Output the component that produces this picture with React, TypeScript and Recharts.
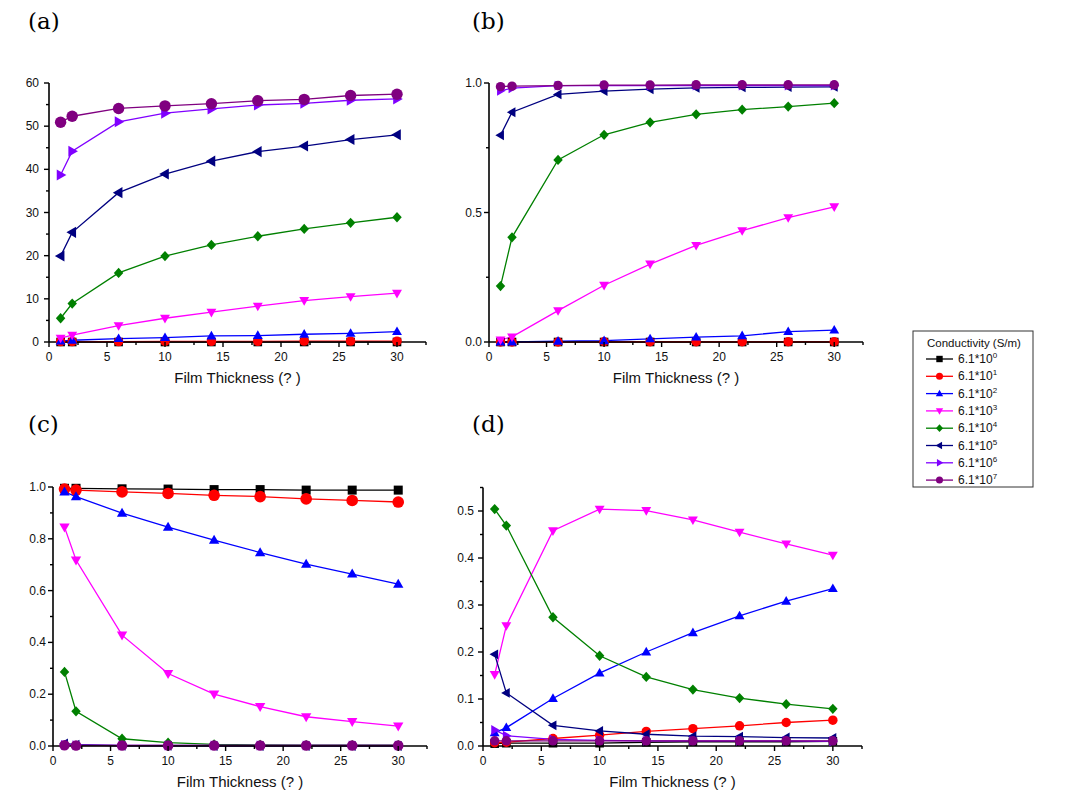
import React from "react";
import { LineChart, Line, XAxis, YAxis, Label } from "recharts";

// film thickness values (x)
const thickness = [1, 2, 6, 10, 14, 18, 22, 26, 30];

const exponents = [0, 1, 2, 3, 4, 5, 6, 7];
const seriesColors = ["#000000", "#ff0000", "#0000ff", "#ff00ff", "#008000", "#000080", "#8000ff", "#800080"];
const seriesShapes = ["square", "circle", "up", "down", "diamond", "left", "right", "circle"];

// (a) one row per conductivity, 6.1*10^0 ... 6.1*10^7
const panelA = [
  [0, 0, 0, 0, 0, 0, 0, 0, 0],
  [0.1, 0.1, 0.1, 0.15, 0.15, 0.15, 0.2, 0.2, 0.2],
  [0.2, 0.4, 0.8, 1.0, 1.4, 1.5, 1.8, 2.0, 2.4],
  [0.9, 1.6, 3.8, 5.5, 6.9, 8.3, 9.6, 10.5, 11.3],
  [5.5, 8.9, 16.0, 19.9, 22.5, 24.5, 26.2, 27.6, 28.9],
  [19.9, 25.4, 34.6, 38.9, 41.9, 44.1, 45.4, 46.9, 48.0],
  [38.7, 44.2, 51.0, 53.0, 54.0, 54.9, 55.3, 56.0, 56.3],
  [50.9, 52.3, 54.1, 54.7, 55.2, 55.9, 56.2, 57.1, 57.4],
];

// (b)
const panelB = [
  [0, 0, 0, 0, 0, 0, 0, 0, 0],
  [0, 0, 0, 0.001, 0.001, 0.001, 0.001, 0.001, 0.001],
  [0, 0, 0.003, 0.005, 0.012, 0.019, 0.024, 0.04, 0.046],
  [0.008, 0.02, 0.121, 0.219, 0.301, 0.373, 0.43, 0.48, 0.522],
  [0.216, 0.404, 0.703, 0.8, 0.848, 0.879, 0.897, 0.909, 0.922],
  [0.798, 0.887, 0.956, 0.969, 0.976, 0.981, 0.983, 0.984, 0.985],
  [0.97, 0.98, 0.99, 0.99, 0.99, 0.99, 0.99, 0.99, 0.99],
  [0.986, 0.988, 0.99, 0.992, 0.992, 0.993, 0.993, 0.993, 0.993],
];

// (c)
const panelC = [
  [0.995, 0.995, 0.993, 0.992, 0.99, 0.99, 0.988, 0.988, 0.988],
  [0.992, 0.988, 0.981, 0.975, 0.968, 0.963, 0.954, 0.948, 0.942],
  [0.981, 0.963, 0.899, 0.845, 0.795, 0.747, 0.702, 0.664, 0.625],
  [0.845, 0.718, 0.428, 0.28, 0.2, 0.152, 0.113, 0.094, 0.077],
  [0.286, 0.134, 0.028, 0.013, 0.006, 0.004, 0.003, 0.003, 0.003],
  [0.01, 0.005, 0.001, 0.001, 0, 0, 0, 0, 0],
  [0.004, 0.003, 0.002, 0.002, 0.002, 0.002, 0.002, 0.002, 0.002],
  [0.003, 0.002, 0.002, 0.002, 0.002, 0.002, 0.002, 0.002, 0.002],
];

// (d)
const panelD = [
  [0.005, 0.006, 0.006, 0.006, 0.008, 0.009, 0.009, 0.009, 0.01],
  [0.007, 0.008, 0.016, 0.023, 0.031, 0.037, 0.043, 0.05, 0.055],
  [0.028, 0.039, 0.101, 0.155, 0.2, 0.241, 0.277, 0.308, 0.335],
  [0.152, 0.256, 0.458, 0.504, 0.501, 0.481, 0.455, 0.43, 0.406],
  [0.504, 0.469, 0.274, 0.192, 0.147, 0.12, 0.102, 0.089, 0.079],
  [0.195, 0.113, 0.044, 0.032, 0.025, 0.021, 0.02, 0.018, 0.017],
  [0.034, 0.022, 0.014, 0.012, 0.011, 0.011, 0.011, 0.011, 0.01],
  [0.011, 0.011, 0.011, 0.011, 0.011, 0.011, 0.011, 0.011, 0.011],
];

const xMajor = [0, 5, 10, 15, 20, 25, 30];
const xTicks = [0, 2.5, 5, 7.5, 10, 12.5, 15, 17.5, 20, 22.5, 25, 27.5, 30, 32.5];

const yMajorA = [0, 10, 20, 30, 40, 50, 60];
const yTicksA = [0, 5, 10, 15, 20, 25, 30, 35, 40, 45, 50, 55, 60];
const yMajorB = [0, 0.5, 1];
const yTicksB = [0, 0.25, 0.5, 0.75, 1];
const yMajorC = [0, 0.2, 0.4, 0.6, 0.8, 1];
const yTicksC = [0, 0.1, 0.2, 0.3, 0.4, 0.5, 0.6, 0.7, 0.8, 0.9, 1];
const yMajorD = [0, 0.1, 0.2, 0.3, 0.4, 0.5];
const yTicksD = [0, 0.05, 0.1, 0.15, 0.2, 0.25, 0.3, 0.35, 0.4, 0.45, 0.5, 0.55];

const FONT = "'Liberation Sans', Arial, sans-serif";
const INK = "#111";

const Marker = ({ cx, cy, shape, color, r }: any) => {
  if (cx == null || cy == null) return null;
  switch (shape) {
    case "square":
      return <rect x={cx - r} y={cy - r} width={2 * r} height={2 * r} fill={color} />;
    case "circle":
      return <circle cx={cx} cy={cy} r={r * 1.1} fill={color} />;
    case "up":
      return <polygon points={`${cx},${cy - r * 1.2} ${cx + r * 1.15},${cy + r * 0.8} ${cx - r * 1.15},${cy + r * 0.8}`} fill={color} />;
    case "down":
      return <polygon points={`${cx},${cy + r * 1.2} ${cx + r * 1.15},${cy - r * 0.8} ${cx - r * 1.15},${cy - r * 0.8}`} fill={color} />;
    case "left":
      return <polygon points={`${cx - r * 1.2},${cy} ${cx + r * 0.8},${cy - r * 1.15} ${cx + r * 0.8},${cy + r * 1.15}`} fill={color} />;
    case "right":
      return <polygon points={`${cx + r * 1.2},${cy} ${cx - r * 0.8},${cy - r * 1.15} ${cx - r * 0.8},${cy + r * 1.15}`} fill={color} />;
    case "diamond":
      return <polygon points={`${cx},${cy - r * 1.2} ${cx + r * 1.1},${cy} ${cx},${cy + r * 1.2} ${cx - r * 1.1},${cy}`} fill={color} />;
    default:
      return null;
  }
};

const isMajor = (majors: number[], v: number) => majors.some((m) => Math.abs(m - v) < 1e-9);

const makeXTick = (majors: number[]) => (props: any) => {
  const { x, y, payload } = props;
  const major = isMajor(majors, payload.value);
  return (
    <g>
      <line x1={x} y1={y} x2={x} y2={y + (major ? 5 : 3)} stroke="#000" strokeWidth={1.4} />
      {major && (
        <text x={x} y={y + 19} textAnchor="middle" fontSize={12} fontFamily={FONT} fill={INK}>
          {payload.value}
        </text>
      )}
    </g>
  );
};

const makeYTick = (majors: number[], fmt: (v: number) => string, gap: number) => (props: any) => {
  const { x, y, payload } = props;
  const major = isMajor(majors, payload.value);
  return (
    <g>
      <line x1={x} y1={y} x2={x - (major ? 5 : 3)} y2={y} stroke="#000" strokeWidth={1.4} />
      {major && (
        <text x={x - gap} y={y + 4} textAnchor="end" fontSize={12} fontFamily={FONT} fill={INK}>
          {fmt(payload.value)}
        </text>
      )}
    </g>
  );
};

const buildRows = (panel: number[][]) =>
  thickness.map((t, i) => {
    const row: any = { x: t };
    panel.forEach((s, k) => {
      row[`s${k}`] = s[i];
    });
    return row;
  });

interface PanelProps {
  panel: number[][];
  yDomain: [number, number];
  yTicks: number[];
  yMajor: number[];
  fmt: (v: number) => string;
  gap: number;
  margin: { top: number; right: number; left: number; bottom: number };
  width: number;
  height: number;
  dotR?: number[];
}

const Panel = ({ panel, yDomain, yTicks, yMajor, fmt, gap, margin, width, height, dotR }: PanelProps) => (
  <LineChart width={width} height={height} data={buildRows(panel)} margin={margin}>
    <XAxis
      type="number"
      dataKey="x"
      domain={[0, 32.5]}
      ticks={xTicks}
      interval={0}
      height={45}
      tickSize={0}
      tickMargin={0}
      tick={makeXTick(xMajor)}
      axisLine={{ stroke: "#000", strokeWidth: 1.6 }}
    >
      <Label value="Film Thickness (? )" position="insideBottom" offset={4} fontSize={15} fontFamily={FONT} fill={INK} />
    </XAxis>
    <YAxis
      type="number"
      domain={yDomain}
      ticks={yTicks}
      interval={0}
      width={40}
      tickSize={0}
      tickMargin={0}
      tick={makeYTick(yMajor, fmt, gap)}
      axisLine={{ stroke: "#000", strokeWidth: 1.6 }}
    />
    {exponents.map((e) => (
      <Line
        key={e}
        type="linear"
        dataKey={`s${e}`}
        stroke={seriesColors[e]}
        strokeWidth={1.3}
        isAnimationActive={false}
        activeDot={false}
        dot={(p: any) => (
          <Marker
            key={`m${e}-${p.index}`}
            cx={p.cx}
            cy={p.cy}
            shape={seriesShapes[e]}
            color={seriesColors[e]}
            r={dotR ? dotR[e] : 4.3}
          />
        )}
      />
    ))}
  </LineChart>
);

const LegendBox = () => (
  <svg width={122} height={158} style={{ position: "absolute", left: 912, top: 330 }}>
    <rect x={1} y={1} width={120} height={156} fill="#fff" stroke="#333" strokeWidth={1} />
    <text x={15} y={17} fontSize={11.5} fontFamily={FONT} fill={INK}>
      Conductivity (S/m)
    </text>
    {exponents.map((e) => {
      const cy = 29 + e * 17.3;
      return (
        <g key={e}>
          <line x1={14} y1={cy} x2={41} y2={cy} stroke={seriesColors[e]} strokeWidth={1.3} />
          <Marker cx={27.5} cy={cy} shape={seriesShapes[e]} color={seriesColors[e]} r={3.2} />
          <text x={46} y={cy + 4} fontSize={12} fontFamily={FONT} fill={INK}>
            6.1*10
            <tspan dy={-5} fontSize={8}>
              {e}
            </tspan>
          </text>
        </g>
      );
    })}
  </svg>
);

const tag = (t: string, left: number, top: number) => (
  <div
    style={{
      position: "absolute",
      left,
      top,
      fontFamily: "'DejaVu Serif', serif",
      fontSize: 23,
      lineHeight: "26px",
      color: "#000",
    }}
  >
    {t}
  </div>
);

const intFmt = (v: number) => `${v}`;
const decFmt = (v: number) => v.toFixed(1);

export default function App() {
  const dotA = [4.3, 4.3, 4.3, 4.3, 4.3, 4.8, 4.8, 5.2];
  const dotC = [4.5, 5.3, 4.5, 4.5, 4.3, 4.3, 4.3, 4.8];
  return (
    <div style={{ position: "absolute", left: 0, top: 0, width: 1069, height: 797, background: "#fff", overflow: "hidden" }}>
      {tag("(a)", 28, 8)}
      {tag("(b)", 472, 8)}
      {tag("(c)", 28, 411)}
      {tag("(d)", 472, 411)}

      {/* (a) */}
      <div style={{ position: "absolute", left: 0, top: 60 }}>
        <Panel
          panel={panelA}
          yDomain={[0, 60]}
          yTicks={yTicksA}
          yMajor={yMajorA}
          fmt={intFmt}
          gap={10}
          width={440}
          height={327}
          margin={{ top: 23, right: 14, left: 9, bottom: 0 }}
          dotR={dotA}
        />
      </div>

      {/* (b) */}
      <div style={{ position: "absolute", left: 440, top: 60 }}>
        <Panel
          panel={panelB}
          yDomain={[0, 1]}
          yTicks={yTicksB}
          yMajor={yMajorB}
          fmt={decFmt}
          gap={7}
          width={440}
          height={327}
          margin={{ top: 23, right: 17, left: 9, bottom: 0 }}
        />
      </div>

      {/* (c) */}
      <div style={{ position: "absolute", left: 0, top: 463 }}>
        <Panel
          panel={panelC}
          yDomain={[0, 1]}
          yTicks={yTicksC}
          yMajor={yMajorC}
          fmt={decFmt}
          gap={7}
          width={440}
          height={328}
          margin={{ top: 24, right: 13, left: 13, bottom: 0 }}
          dotR={dotC}
        />
      </div>

      {/* (d) */}
      <div style={{ position: "absolute", left: 440, top: 463 }}>
        <Panel
          panel={panelD}
          yDomain={[0, 0.55]}
          yTicks={yTicksD}
          yMajor={yMajorD}
          fmt={decFmt}
          gap={9}
          width={440}
          height={328}
          margin={{ top: 24.5, right: 18, left: 3, bottom: 0 }}
        />
      </div>

      <LegendBox />
    </div>
  );
}
